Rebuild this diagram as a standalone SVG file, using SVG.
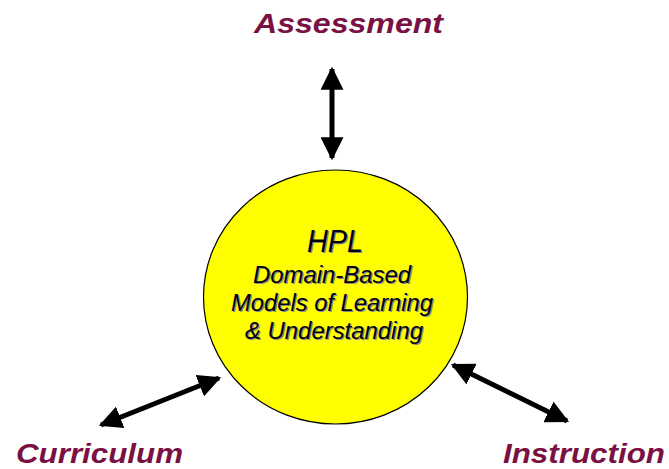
<svg xmlns="http://www.w3.org/2000/svg" width="669" height="469" viewBox="0 0 669 469">
  <style>
    .label { font-family: "Liberation Sans", Arial, sans-serif; font-weight: bold; font-style: italic; font-size: 28px; fill: #7a1142; }
    .core { font-family: "Liberation Sans", Arial, sans-serif; font-style: italic; fill: #000; text-anchor: middle; }
    .shadow { fill: #8a8a8a; }
    .link { stroke: #000; stroke-width: 5; fill: none; marker-start: url(#head); marker-end: url(#head); }
  </style>
  <defs>
    <marker id="head" viewBox="0 0 10 10" refX="9" refY="5" markerWidth="4.6" markerHeight="4.6" markerUnits="strokeWidth" orient="auto-start-reverse">
      <path d="M0,0 L10,5 L0,10 Z" fill="#000"/>
    </marker>
  </defs>

  <!-- connectors -->
  <g id="connectors">
    <line class="link" x1="332" y1="69" x2="332" y2="158"/>
    <line class="link" x1="101" y1="425" x2="219" y2="378"/>
    <line class="link" x1="453" y1="365" x2="567" y2="421"/>
  </g>

  <!-- central node -->
  <g id="hpl">
    <ellipse cx="335.5" cy="297" rx="132" ry="127" fill="#ffff00" stroke="#000" stroke-width="1.2"/>
    <g class="core shadow" transform="translate(1.2,1.2)">
      <text x="335" y="252" font-size="31" textLength="56" lengthAdjust="spacingAndGlyphs">HPL</text>
      <text x="332" y="283" font-size="23" textLength="158" lengthAdjust="spacingAndGlyphs">Domain-Based</text>
      <text x="332" y="311" font-size="23" textLength="202" lengthAdjust="spacingAndGlyphs">Models of Learning</text>
      <text x="334" y="339" font-size="23" textLength="178" lengthAdjust="spacingAndGlyphs">&amp; Understanding</text>
    </g>
    <g class="core">
      <text x="335" y="252" font-size="31" textLength="56" lengthAdjust="spacingAndGlyphs">HPL</text>
      <text x="332" y="283" font-size="23" textLength="158" lengthAdjust="spacingAndGlyphs">Domain-Based</text>
      <text x="332" y="311" font-size="23" textLength="202" lengthAdjust="spacingAndGlyphs">Models of Learning</text>
      <text x="334" y="339" font-size="23" textLength="178" lengthAdjust="spacingAndGlyphs">&amp; Understanding</text>
    </g>
  </g>

  <g id="assessment">
    <text class="label" x="254" y="33" textLength="189" lengthAdjust="spacingAndGlyphs">Assessment</text>
  </g>
  <g id="curriculum">
    <text class="label" x="16" y="463" textLength="167" lengthAdjust="spacingAndGlyphs">Curriculum</text>
  </g>
  <g id="instruction">
    <text class="label" x="503" y="463" textLength="162" lengthAdjust="spacingAndGlyphs">Instruction</text>
  </g>
</svg>
